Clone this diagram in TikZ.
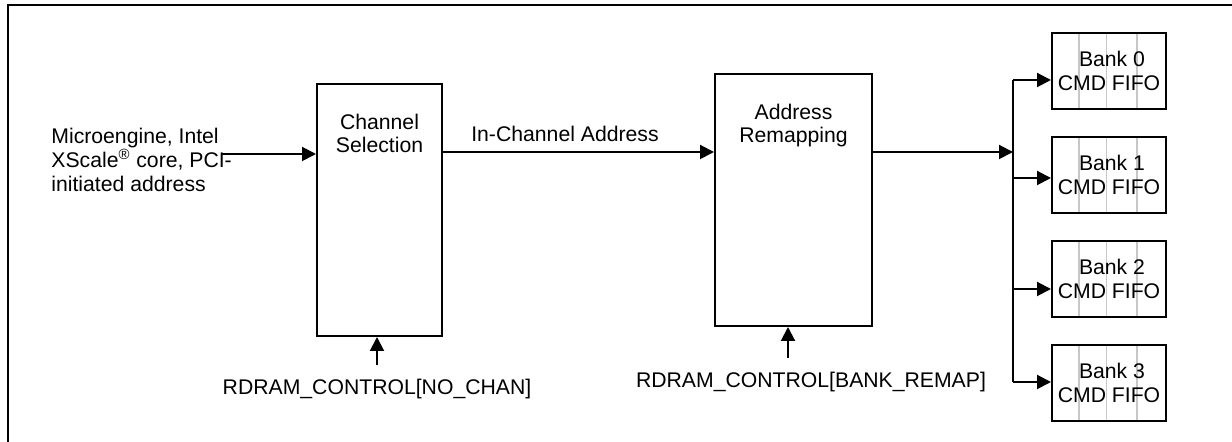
\documentclass[tikz,border=0pt]{standalone}
\usepackage{fontspec}
\setmainfont{Liberation Sans}
\usepackage{tikz}
\usetikzlibrary{arrows.meta, positioning, calc, backgrounds}
\tikzset{
	block/.style={rectangle, draw=black, line width=1pt, minimum width=62.5pt, minimum height=126pt, inner sep=0pt},
	fifo/.style={rectangle, draw=black, line width=1pt, minimum width=57pt, minimum height=38pt, inner sep=0pt, align=center, font=\fontsize{10.6pt}{11.6pt}\selectfont},
	blk_title/.style={inner sep=0pt, align=center, font=\fontsize{10.6pt}{11.6pt}\selectfont},
	lbl/.style={inner sep=0pt, font=\fontsize{10.6pt}{12pt}\selectfont},
	flow/.style={-{Triangle[length=7pt, width=7pt]}, line width=1pt},
	bus_line/.style={line width=1pt},
	fifo_div/.style={draw=black!22, line width=0.7pt},
	frame_line/.style={line width=1pt}
}

\begin{document}
\begin{tikzpicture}[x=0.5pt, y=-0.5pt]
	\useasboundingbox (0,0) rectangle (1232,442);
	\draw[frame_line] (8,460) -- (8,5) -- (1250,5);
	\node[block] (csel) at (379.5,210) {};
	\node[block, minimum width=78.5pt, right=135.5pt of csel, yshift=5pt] (remap) {};
	\node[blk_title, below=15.5pt of csel.north] (csel_t) {Channel\\Selection};
	\node[blk_title, below=15.5pt of remap.north] (remap_t) {Address\\Remapping};
	\node[lbl, align=left, anchor=north west] (src) at (51,128) {Microengine, Intel\\XScale\textsuperscript{®} core, PCI-\\initiated address};
	\coordinate (inp) at (222,154);
	\coordinate (bus) at (1013,152);
	\draw[flow] (inp) -- (inp -| csel.west);
	\draw[flow] (csel.east |- bus) -- node[lbl, above=4.5pt, xshift=-6.75pt] (inch) {In-Channel Address} (remap.west |- bus);
	\draw[flow] (remap.east |- bus) -- (bus);
	\node[fifo] (bank0) at (1109,71) {\hspace{3pt}Bank 0\\CMD FIFO};
	\node[fifo, below=13pt of bank0] (bank1) {\hspace{3pt}Bank 1\\CMD FIFO};
	\node[fifo, below=13pt of bank1] (bank2) {\hspace{3pt}Bank 2\\CMD FIFO};
	\node[fifo, below=13pt of bank2] (bank3) {\hspace{3pt}Bank 3\\CMD FIFO};
	\begin{scope}[on background layer]
		\foreach \b in {0,...,3}
			\foreach \f in {0.24,0.48,0.74}
				\draw[fifo_div] ($(bank\b.south west)!\f!(bank\b.south east)$) -- ($(bank\b.north west)!\f!(bank\b.north east)$);
	\end{scope}
	\foreach \i/\y in {0/80,1/178,2/289,3/382} {
		\coordinate (tap\i) at (1013,\y);
		\draw[flow] (tap\i) -- (tap\i -| bank\i.west);
	}
	\draw[bus_line] (tap0) -- (tap3);
	\coordinate (ctl1) at (377,365);
	\coordinate (ctl2) at (788,358);
	\draw[flow] (ctl1) -- (ctl1 |- csel.south);
	\draw[flow] (ctl2) -- (ctl2 |- remap.south);
	\node[lbl, below=7pt of ctl1] (ctl1_t) {RDRAM\_CONTROL[NO\_CHAN]};
	\node[lbl, below=7pt of ctl2, xshift=11.5pt] (ctl2_t) {RDRAM\_CONTROL[BANK\_REMAP]};
\end{tikzpicture}
\end{document}
